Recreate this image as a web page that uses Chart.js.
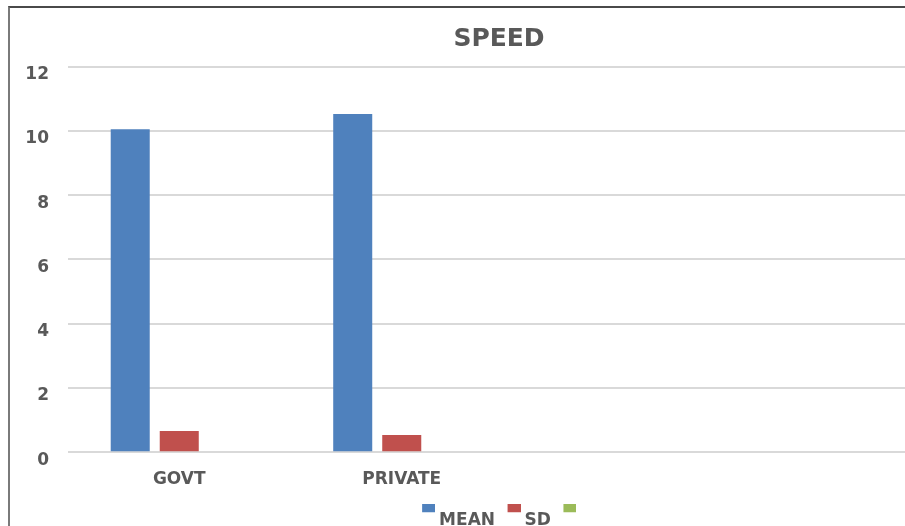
<!DOCTYPE html>
<html>
<head>
<meta charset="utf-8">
<title>SPEED</title>
<script src="https://cdn.jsdelivr.net/npm/chart.js@4/dist/chart.umd.min.js"></script>
<style>
  html, body { margin: 0; padding: 0; background: #ffffff; overflow: hidden; width: 905px; height: 526px; }
  #frame {
    position: absolute; left: 8px; top: 6px;
    width: 978px; height: 540px;
    border-left: 2px solid #7a7a7a; border-top: 2px solid #4a4a4a;
    border-right: 2px solid #7a7a7a; border-bottom: 2px solid #7a7a7a;
    background: #ffffff;
  }
  #chart { display: block; width: 978px; height: 540px; }
</style>
</head>
<body>
<div id="frame"><canvas id="chart" width="978" height="540"></canvas></div>
<script>
// Categories along the x axis (the last two slots are unused)
const categories = ['GOVT', 'PRIVATE', '', ''];

// Series values
const meanValues = [10.05, 10.52, null, null];
const sdValues = [0.66, 0.54, null, null];
const thirdValues = [null, null, null, null];

// Y axis ticks
const yTicks = [0, 2, 4, 6, 8, 10, 12];

const seriesNames = ['MEAN', 'SD', ''];
const seriesColors = ['#4F81BD', '#C0504D', '#9BBB59'];

const textColor = '#595959';
const gridColor = '#d9d9d9';
const fontFamily = '"DejaVu Sans", "Liberation Sans", sans-serif';

// Legend swatch: a small square sitting high and close to its label
function makeSwatch(color) {
  const c = document.createElement('canvas');
  c.width = 22;
  c.height = 32;
  const g = c.getContext('2d');
  g.fillStyle = color;
  g.fillRect(9, 0, 13, 8);
  return c;
}
const swatches = seriesColors.map(makeSwatch);

const ctx = document.getElementById('chart').getContext('2d');
new Chart(ctx, {
  type: 'bar',
  data: {
    labels: categories,
    datasets: [
      { label: seriesNames[0], data: meanValues, backgroundColor: seriesColors[0] },
      { label: seriesNames[1], data: sdValues, backgroundColor: seriesColors[1] },
      { label: seriesNames[2], data: thirdValues, backgroundColor: seriesColors[2] }
    ]
  },
  options: {
    responsive: false,
    animation: false,
    devicePixelRatio: 1,
    layout: { padding: { left: 10, right: 10, top: 0, bottom: 9.3 } },
    datasets: {
      bar: { categoryPercentage: 0.661, barPercentage: 0.796, borderWidth: 0 }
    },
    plugins: {
      title: {
        display: true,
        text: 'SPEED',
        color: textColor,
        font: { family: fontFamily, size: 25, weight: 'bold', lineHeight: 1.2 },
        padding: { top: 16, bottom: 12.5 }
      },
      legend: {
        display: true,
        position: 'bottom',
        labels: {
          color: textColor,
          font: { family: fontFamily, size: 17, weight: 'bold' },
          usePointStyle: true,
          pointStyleWidth: 13,
          padding: 8,
          generateLabels(chart) {
            const items = Chart.defaults.plugins.legend.labels.generateLabels(chart);
            items.forEach((it, i) => { it.pointStyle = swatches[i]; });
            return items;
          }
        }
      },
      tooltip: { enabled: false }
    },
    scales: {
      x: {
        grid: { display: false, drawTicks: false },
        border: { display: false },
        ticks: {
          color: textColor,
          font: { family: fontFamily, size: 17, weight: 'bold', lineHeight: 1.2 },
          padding: 17.5,
          maxRotation: 0,
          autoSkip: false
        },
        afterFit(scale) { scale.height = 51.4; }
      },
      y: {
        min: yTicks[0],
        max: yTicks[yTicks.length - 1],
        afterBuildTicks(scale) { scale.ticks = yTicks.map(v => ({ value: v })); },
        grid: { color: gridColor, lineWidth: 2, drawTicks: false },
        border: { display: false },
        ticks: {
          color: textColor,
          font: { family: fontFamily, size: 17, weight: 'bold' },
          padding: 19,
          labelOffset: 8
        },
        afterFit(scale) { scale.width = 48; }
      },
      // empty margin on the right side of the plot area
      yRight: {
        position: 'right',
        min: yTicks[0],
        max: yTicks[yTicks.length - 1],
        grid: { display: false, drawTicks: false },
        border: { display: false },
        ticks: { display: false },
        afterFit(scale) { scale.width = 20; }
      }
    }
  }
});
</script>
</body>
</html>
